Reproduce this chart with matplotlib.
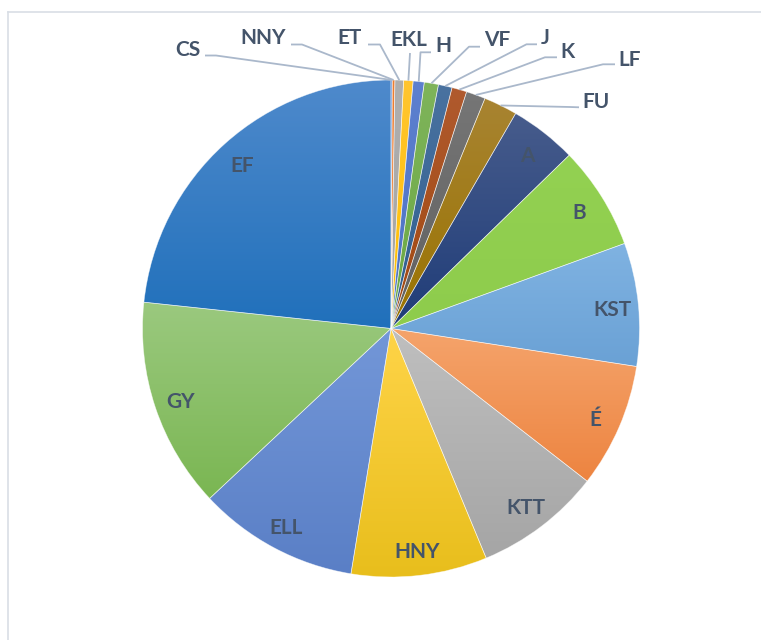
import numpy as np
import matplotlib
matplotlib.use("Agg")
import matplotlib.pyplot as plt
from matplotlib.colors import LinearSegmentedColormap
from matplotlib.lines import Line2D

# ---- data ----
labels = ['CS', 'NNY', 'ET', 'EKL', 'H', 'VF', 'J', 'K', 'LF', 'FU',
          'A', 'B', 'KST', 'É', 'KTT', 'HNY', 'ELL', 'GY', 'EF']
values = [0.08, 0.17, 0.56, 0.61, 0.72, 0.92, 0.89, 0.97, 1.25, 2.19,
          4.36, 6.72, 8.00, 8.08, 8.22, 8.83, 10.44, 13.67, 23.31]
top_colors = ['#4472C4', '#ED7D31', '#AFAFAF', '#FFC530', '#5D80CF', '#7FB45B',
              '#4A72A0', '#B05A2E', '#767676', '#A88432', '#475C8C', '#93D152',
              '#80B3E2', '#F5A46C', '#BFBFBF', '#FFD448', '#7397D8', '#9BC97F', '#4F8ACC']
bottom_colors = ['#4472C4', '#ED7D31', '#A5A5A5', '#FFC000', '#4C72C4', '#6AA842',
                 '#2D5E8F', '#A04810', '#606060', '#9A7300', '#1F3C78', '#8ECC4C',
                 '#6AA1D5', '#ED8440', '#A5A5A5', '#E8BE1C', '#5A7FC6', '#7AB652', '#2070BB']
inside_labels = ['A', 'B', 'KST', 'É', 'KTT', 'HNY', 'ELL', 'GY', 'EF']

# ---- layout (pixel coordinates, y downward) ----
W, H = 761, 640
CX, CY, R = 391.0, 328.5, 248.5
outside_layout = {
    'CS':  dict(text=(200, 55.5), ha='right',  path=[(205, 55.5), (216, 55.5)]),
    'NNY': dict(text=(286, 44.5), ha='right',  path=[(291, 44.5), (302, 44.5)]),
    'ET':  dict(text=(362, 44.5), ha='right',  path=[(368, 44.5), (380, 44.5)]),
    'EKL': dict(text=(409, 46.0), ha='center', path=[(410, 53.0)]),
    'H':   dict(text=(435, 51.5), ha='left',   path=[(431, 52.3), (420.5, 52.3)]),
    'VF':  dict(text=(484, 46.5), ha='left',   path=[(480, 46.7), (469, 46.7)]),
    'J':   dict(text=(541, 44.5), ha='left',   path=[(537, 44.3), (526.5, 44.3)]),
    'K':   dict(text=(560, 58.0), ha='left',   path=[(557, 57.3), (545, 57.3)]),
    'LF':  dict(text=(618, 65.5), ha='left',   path=[(615, 64.3), (603, 64.3)]),
    'FU':  dict(text=(582, 108.0), ha='left',  path=[(579, 107.3), (570, 107.0)]),
}
INSIDE_R = 0.895
INSIDE_DY = 3.0  # shift inside labels down (px) so caps are centred
TEXT_COLOR = '#44546A'
LINE_COLOR = '#AAB8CB'
FONT = dict(family=['Lato', 'DejaVu Sans'], fontweight='bold', fontsize=15, color=TEXT_COLOR)

fig = plt.figure(figsize=(W / 100, H / 100), dpi=100)
fig.patch.set_facecolor('white')
ax = fig.add_axes([0, 0, 1, 1])

cx, cy = CX, H - CY
wedges, _ = ax.pie(values, startangle=90, counterclock=False, center=(cx, cy),
                   radius=R, colors=bottom_colors, wedgeprops=dict(linewidth=0))

grad = np.linspace(0, 1, 256).reshape(-1, 1)
for w, ct, cb in zip(wedges, top_colors, bottom_colors):
    th = np.radians(np.linspace(w.theta1, w.theta2, 200))
    xs = np.concatenate([[cx], cx + R * np.cos(th)])
    ys = np.concatenate([[cy], cy + R * np.sin(th)])
    cmap = LinearSegmentedColormap.from_list('g', [cb, ct])
    im = ax.imshow(grad, cmap=cmap, extent=[xs.min() - 1, xs.max() + 1, ys.min() - 1, ys.max() + 1],
                   origin='lower', aspect='auto', interpolation='bilinear', zorder=2)
    im.set_clip_path(w)
    w.set_facecolor('none')
    w.set_edgecolor((1, 1, 1, 0.55))
    w.set_linewidth(0.5)
    w.set_zorder(3)

for w, lab in zip(wedges, labels):
    mid = np.radians((w.theta1 + w.theta2) / 2)
    if lab in inside_labels:
        ax.text(cx + INSIDE_R * R * np.cos(mid), cy + INSIDE_R * R * np.sin(mid) - INSIDE_DY, lab,
                ha='center', va='center', zorder=5, **FONT)
    else:
        lay = outside_layout[lab]
        px, py = cx + R * np.cos(mid), cy + R * np.sin(mid)
        pts = [(x, H - y) for x, y in lay['path']] + [(px, py)]
        ax.add_line(Line2D([p[0] for p in pts], [p[1] for p in pts], color=LINE_COLOR,
                           linewidth=1.3, zorder=4, solid_capstyle='butt'))
        tx, ty = lay['text']
        ax.text(tx, H - ty, lab, ha=lay['ha'], va='baseline', zorder=5, **FONT)

ax.set_xlim(0, W)
ax.set_ylim(0, H)
ax.set_aspect('auto')
ax.axis('off')

# chart frame (light border, continues past the right/bottom edges)
fig.add_artist(Line2D([7.5 / W, 1.0], [1 - 11.5 / H, 1 - 11.5 / H], transform=fig.transFigure,
                      color='#D9DEE5', linewidth=1.2))
fig.add_artist(Line2D([7.5 / W, 7.5 / W], [0.0, 1 - 11.5 / H], transform=fig.transFigure,
                      color='#D9DEE5', linewidth=1.2))

fig.savefig('out.png', dpi=100, facecolor='white')
